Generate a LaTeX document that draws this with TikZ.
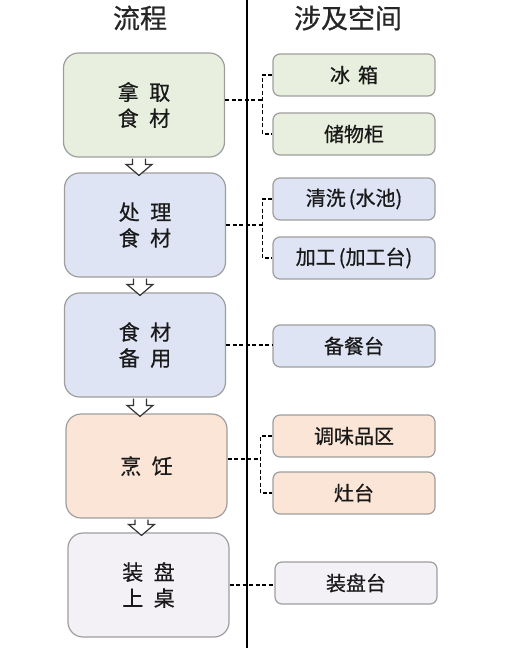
\documentclass[tikz,border=0pt]{standalone}
\usepackage{fontspec}
\setmainfont{Noto Sans CJK SC}[FakeBold=0.6]
\usetikzlibrary{positioning,calc}
\definecolor{takefill}{RGB}{233,239,222}
\definecolor{procfill}{RGB}{222,228,243}
\definecolor{cookfill}{RGB}{251,229,214}
\definecolor{platefill}{RGB}{243,240,246}
\newcommand{\gapchar}{\hspace{0.5em}}
\tikzset{
  stagebox/.style={draw=black!38,line width=1.2pt,rounded corners=15pt,
    minimum width=161pt,minimum height=104pt,align=center,
    font=\fontsize{21}{26}\selectfont,text=black!90},
  spacebox/.style={draw=black!38,line width=1.2pt,rounded corners=7pt,
    minimum width=162pt,minimum height=42pt,
    font=\fontsize{20}{22}\selectfont,text=black!90},
  headlbl/.style={font=\fontsize{27}{30}\selectfont,text=black!85},
  link/.style={dash pattern=on 4pt off 2.5pt,line width=1.5pt},
  downarrow/.style={draw=black!80,fill=white,line width=1.2pt,line join=miter},
  divider/.style={line width=1.5pt},
}
\begin{document}
\begin{tikzpicture}[x=1pt,y=-1pt]
  \useasboundingbox (0,0) rectangle (506,658);
  \node[headlbl] (hflow) at (140,18) {流程};
  \node[headlbl] (hspace) at (348,18) {涉及空间};
  \coordinate (ltop) at (247,0);
  \coordinate (lbot) at (247,648);
  \draw[divider] (ltop) -- (lbot);

  \node[stagebox,fill=takefill] (take) at (144,105) {拿\gapchar 取\\食\gapchar 材};
  \node[stagebox,fill=procfill] (proc) at (145,225) {处\gapchar 理\\食\gapchar 材};
  \node[stagebox,fill=procfill] (prep) at (145,345) {食\gapchar 材\\备\gapchar 用};
  \node[stagebox,fill=cookfill] (cook) at (146.5,466) {烹\gapchar 饪};
  \node[stagebox,fill=platefill] (plate) at (148.5,585) {装\gapchar 盘\\上\gapchar 桌};

  \node[spacebox,fill=takefill] (fridge) at (354,75) {冰\hspace{0.4em}箱};
  \node[spacebox,fill=takefill] (store) at (354,134) {储物柜};
  \node[spacebox,fill=procfill] (sink) at (354,199) {清洗\hspace{3pt}(水池)};
  \node[spacebox,fill=procfill] (counter) at (354,258) {加工\hspace{3pt}(加工台)};
  \node[spacebox,fill=procfill] (serve) at (354,346) {备餐台};
  \node[spacebox,fill=cookfill] (spice) at (354,436) {调味品区};
  \node[spacebox,fill=cookfill] (stove) at (354,493) {灶台};
  \node[spacebox,fill=platefill] (dish) at (356,583) {装盘台};

  \foreach \a/\b in {take/proc,proc/prep,prep/cook,cook/plate}{
    \path (\a.south |- \b.north) coordinate (t);
    \draw[downarrow] ($(\a.south)+(-11.5,1)$) -- ($(t)+(-11.5,-8)$)
      -- ($(t)+(-18,-8)$) -- ($(t)+(-5,3)$) -- ($(t)+(8,-8)$)
      -- ($(t)+(1.5,-8)$) -- ($(\a.south)+(1.5,1)$);
  }

  \coordinate (j1) at ($(fridge.west)+(-10,0)$);
  \coordinate (j2) at ($(sink.west)+(-10,0)$);
  \coordinate (j3) at ($(spice.west)+(-12,0)$);
  \draw[link] (fridge.west) -- (j1) |- (store.west);
  \draw[link] ($(take.east)+(0,-5)$) -- ($(take.east -| j1)+(0,-5)$);
  \draw[link] (sink.west) -- (j2) |- (counter.west);
  \draw[link] (proc.east) -- (proc.east -| j2);
  \draw[link] (prep.east) -- (prep.east -| serve.west);
  \draw[link] (spice.west) -- (j3) |- (stove.west);
  \draw[link] ($(cook.east)+(0,-7)$) -- ($(cook.east -| j3)+(0,-7)$);
  \draw[link] (plate.east) -- (plate.east -| dish.west);
\end{tikzpicture}
\end{document}
